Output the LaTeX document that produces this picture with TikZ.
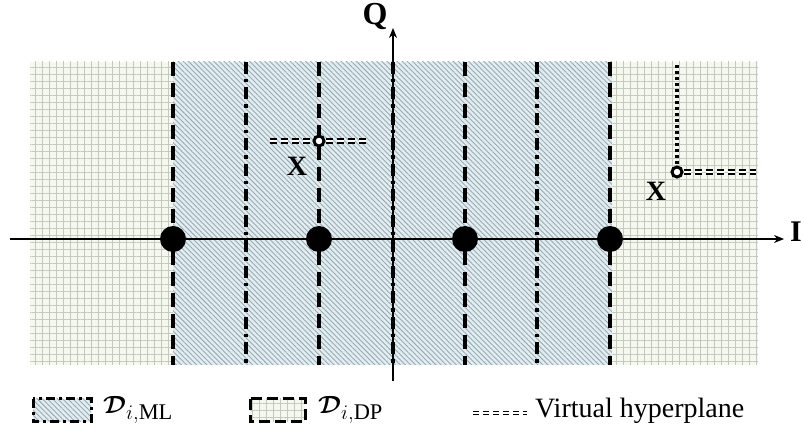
\documentclass[tikz,border=0pt]{standalone}
\usepackage{fontspec}
\setmainfont{Liberation Serif}
\usepackage{bm}
\usetikzlibrary{patterns.meta,arrows.meta}
\definecolor{mlbg}{HTML}{E2EDF1}
\definecolor{mlline}{HTML}{98ABB3}
\definecolor{dpbg}{HTML}{F5F8EE}
\definecolor{dpline}{HTML}{C4C9BE}
\begin{document}
\begin{tikzpicture}[x=1pt,y=-1pt,
  mlfill/.style={pattern={Lines[angle=-45,distance=3.6pt,line width=0.9pt]},pattern color=mlline},
  dpfill/.style={pattern={Hatch[angle=0,distance=7pt,line width=0.5pt]},pattern color=dpline},
  dashline/.style={line width=3.6pt,dash pattern=on 14pt off 7pt},
  dashdotline/.style={line width=3.6pt,dash pattern=on 12pt off 5pt on 3.5pt off 5pt},
  axisline/.style={line width=1.1pt,-{Stealth[length=10pt,width=8pt]}},
  symbol/.style={circle,fill=black,inner sep=0pt,minimum size=26pt},
  xpoint/.style={circle,draw=black,fill=white,line width=3pt,inner sep=0pt,minimum size=10pt},
  vplane/.style={line width=1.6pt,double=white,double distance=2pt,dash pattern=on 7pt off 4pt},
  dotline/.style={line width=3.4pt,dash pattern=on 3pt off 3pt},
  xlabel/.style={font=\fontsize{28}{28}\selectfont\bfseries,inner sep=0pt},
  leg/.style={font=\fontsize{32}{34}\selectfont,inner sep=0pt,anchor=west}]
\useasboundingbox (0,0) rectangle (804,438);
% regions
\fill[dpbg] (30,62) rectangle (173,365);
\fill[dpfill] (30,62) rectangle (173,365);
\fill[mlbg] (173,62) rectangle (612,365);
\fill[mlfill] (173,62) rectangle (612,365);
\fill[dpbg] (612,62) rectangle (758,365);
\fill[dpfill] (612,62) rectangle (758,365);
% boundary coordinates
\foreach \n/\x in {1/173,2/319,3/465,4/610}{
  \coordinate (t\n) at (\x,62); \coordinate (b\n) at (\x,365);}
\foreach \n/\x in {1/246,2/393,3/537}{
  \coordinate (mt\n) at (\x,62); \coordinate (mb\n) at (\x,365);}
% axes
\coordinate (iL) at (10,239); \coordinate (iR) at (784,239);
\coordinate (qB) at (393,381); \coordinate (qT) at (393,28);
\draw[axisline] (iL) -- (iR);
\draw[axisline] (qB) -- (qT);
% dashed and dash-dot lines
\foreach \n in {1,2,3,4}{\draw[dashline] (t\n) -- (b\n);}
\foreach \n in {1,2,3}{\draw[dashdotline] (mt\n) -- (mb\n);}
% symbols
\foreach \n/\x in {1/173,2/319,3/465,4/610}{\node[symbol] (s\n) at (\x,239) {};}
% point X1
\node[xpoint] (x1) at (319,141) {};
\coordinate (v1l) at (270,141); \coordinate (v1r) at (366,141);
\draw[vplane] (v1l) -- (x1.west);
\draw[vplane] (x1.east) -- (v1r);
\node[xlabel] (lx1) at (297,166) {X};
% point X2
\coordinate (d2) at (677,65);
\node[xpoint] (x2) at (677,172) {};
\coordinate (v2r) at (756,172);
\draw[dotline] (d2) -- (x2.north);
\draw[vplane] (x2.east) -- (v2r);
\node[xlabel] (lx2) at (656,191) {X};
% axis labels
\node[font=\fontsize{32}{32}\selectfont\bfseries,inner sep=0pt] (Q) at (375,17) {Q};
\node[font=\fontsize{30}{30}\selectfont\bfseries,inner sep=0pt,anchor=west] (I) at (790,232) {I};
% legend
\fill[mlbg] (33,399) rectangle (91,422);
\fill[mlfill] (33,399) rectangle (91,422);
\draw[line width=3pt,dash pattern=on 9pt off 4pt on 3pt off 4pt] (33,399) rectangle (91,422);
\node[leg] (lml) at (103,410) {$\bm{\mathcal{D}}_{i,\mathrm{ML}}$};
\fill[dpbg] (250,399) rectangle (305,422);
\fill[dpfill] (250,399) rectangle (305,422);
\draw[line width=3pt,dash pattern=on 11pt off 5pt] (250,399) rectangle (305,422);
\node[leg] (ldp) at (318,410) {$\bm{\mathcal{D}}_{i,\mathrm{DP}}$};
\coordinate (vl) at (473,413); \coordinate (vr) at (527,413);
\draw[vplane,line width=1.4pt,dash pattern=on 6pt off 4pt] (vl) -- (vr);
\node[leg,font=\fontsize{28}{30}\selectfont] (lvh) at (535,411) {Virtual hyperplane};
\end{tikzpicture}
\end{document}
